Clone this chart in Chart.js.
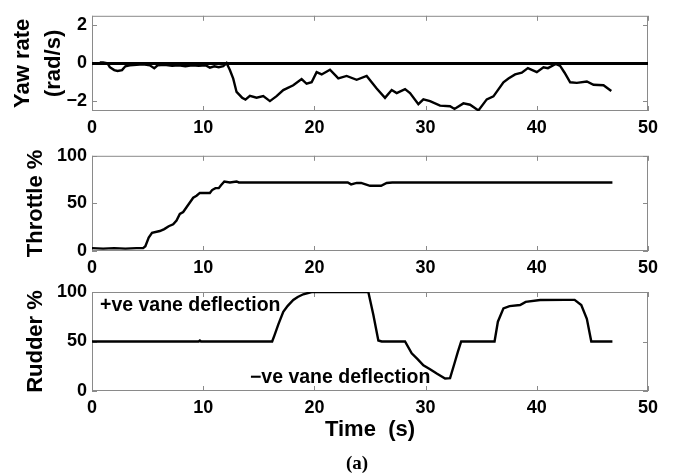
<!DOCTYPE html>
<html>
<head>
<meta charset="utf-8">
<script src="https://cdn.jsdelivr.net/npm/chart.js@4.4.1/dist/chart.umd.min.js"></script>
<style>
  body { margin: 0; background: #fff; }
  #wrap { position: relative; width: 675px; height: 476px; overflow: hidden; }
  canvas { position: absolute; left: 0; }
  #cap { position: absolute; left: 0; width: 714px; top: 452px; text-align: center;
         font: bold 19px "Liberation Serif", serif; color: #000; }
</style>
</head>
<body>
<div id="wrap">
  <canvas id="yawChart" width="675" height="140" style="top:0"></canvas>
  <canvas id="throttleChart" width="675" height="135" style="top:140px"></canvas>
  <canvas id="rudderChart" width="675" height="201" style="top:275px"></canvas>
  <div id="cap">(a)</div>
</div>
<script>
// Time axis shared by all three panels
const timeTicks = [0, 10, 20, 30, 40, 50];

// Yaw rate (rad/s)
const yawTime = [0.7, 1.0, 1.4, 1.6, 2.0, 2.3, 2.7, 3.0, 3.4, 4.0, 4.6, 5.2, 5.6, 5.9, 6.5, 7.2, 7.8,
  8.4, 9.0, 9.6, 10.2, 10.6, 11.0, 11.4, 11.8, 12.1, 12.4, 12.7, 13.0, 13.5, 13.8, 14.2, 14.8,
  15.4, 16.0, 16.6, 17.2, 18.1, 18.85, 19.3, 19.75, 20.2, 20.65, 21.4, 22.15, 22.9, 23.8, 24.7,
  25.6, 26.35, 26.95, 27.4, 28.15, 28.6, 29.35, 29.8, 30.4, 31.3, 32.2, 32.6, 33.4, 34.0, 34.75,
  35.5, 36.1, 37.0, 37.45, 38.05, 38.65, 39.2, 40.0, 40.6, 41.0, 41.7, 42.1, 42.5, 43.0, 43.6,
  44.5, 45.1, 46.0, 46.7];
const yawRate = [0.05, 0.05, 0.0, -0.2, -0.35, -0.4, -0.35, -0.15, -0.1, -0.08, -0.05, -0.1, -0.25,
  -0.1, -0.08, -0.12, -0.1, -0.15, -0.1, -0.12, -0.1, -0.22, -0.15, -0.2, -0.15, 0.02, -0.35, -0.8,
  -1.5, -1.8, -1.9, -1.7, -1.8, -1.72, -1.98, -1.72, -1.4, -1.15, -0.82, -1.07, -0.99, -0.46, -0.58,
  -0.33, -0.79, -0.66, -0.86, -0.66, -1.32, -1.81, -1.4, -1.56, -1.35, -1.56, -2.14, -1.89, -1.98,
  -2.22, -2.25, -2.39, -2.1, -2.17, -2.47, -1.89, -1.73, -0.99, -0.79, -0.58, -0.49, -0.25, -0.46,
  -0.2, -0.25, -0.03, -0.13, -0.49, -0.99, -1.02, -0.95, -1.12, -1.15, -1.45];
const yawTicks = [-2, 0, 2];

// Throttle %
const throttleTime = [0, 1, 2, 3, 4, 4.6, 4.8, 5.1, 5.4, 6.1, 6.5, 6.9, 7.3, 7.6, 7.9, 8.2, 8.5, 8.8,
  9.1, 9.4, 9.7, 10.6, 10.8, 11.1, 11.4, 11.6, 11.9, 12.4, 13.0, 13.2, 23.0, 23.3, 23.8, 24.2, 24.6,
  25.0, 26.0, 26.5, 27.0, 46.8];
const throttle = [3, 2.5, 3, 2.5, 3, 3, 5, 14, 19, 21, 23, 26, 28, 32, 39, 41, 46, 51, 56, 58, 61, 61,
  64, 66, 66, 69, 73, 72, 73, 72, 72, 70, 71.5, 71.5, 70, 68.5, 68.5, 71.5, 72, 72];

// Rudder %
const rudderTime = [0, 9.6, 9.7, 9.8, 16.2, 16.4, 16.75, 17.2, 17.6, 18.1, 18.5, 19.0, 19.75, 24.85,
  25.3, 25.75, 26.05, 28.15, 28.75, 29.3, 29.8, 30.4, 31.0, 31.75, 32.2, 32.6, 32.9, 33.2, 36.2,
  36.5, 37.0, 37.55, 38.5, 39.0, 40.3, 42.5, 43.4, 44.0, 44.5, 44.9, 46.8];
const rudder = [50, 50, 51, 50, 50, 56, 67, 80, 86, 92, 95, 97.7, 100, 100, 77, 51, 50, 50, 38, 32,
  26, 22, 17.6, 12.6, 13, 28, 39.5, 50, 50, 70, 83.5, 85.8, 86.8, 90, 91.9, 92, 92, 86.8, 73, 50, 50];
const percentTicks = [0, 50, 100];

const pts = (xs, ys) => xs.map((x, i) => ({ x: x, y: ys[i] }));
const fontTick = { family: 'Liberation Sans, Arial, sans-serif', weight: 'bold', size: 18 };
const fontTitle = { family: 'Liberation Sans, Arial, sans-serif', weight: 'bold', size: 22 };

// grey box round the plot area with inward tick marks on all four sides
const frameTicks = {
  id: 'frameTicks',
  beforeDatasetsDraw(chart) {
    const { ctx, chartArea: a, scales } = chart;
    ctx.save();
    ctx.strokeStyle = '#8a8a8a';
    ctx.lineWidth = 1;
    ctx.strokeRect(a.left + 0.5, a.top + 0.5, a.right - a.left - 1, a.bottom - a.top - 1);
    ctx.beginPath();
    scales.x.ticks.forEach(t => {
      const px = Math.round(scales.x.getPixelForValue(t.value)) + 0.5;
      ctx.moveTo(px, a.bottom); ctx.lineTo(px, a.bottom - 5);
      ctx.moveTo(px, a.top); ctx.lineTo(px, a.top + 5);
    });
    scales.y.ticks.forEach(t => {
      const py = Math.round(scales.y.getPixelForValue(t.value)) + 0.5;
      ctx.moveTo(a.left, py); ctx.lineTo(a.left + 5, py);
      ctx.moveTo(a.right, py); ctx.lineTo(a.right - 5, py);
    });
    ctx.stroke();
    ctx.restore();
  }
};

// free text placed at data coordinates
const notes = {
  id: 'notes',
  afterDatasetsDraw(chart, args, opts) {
    if (!opts.items) return;
    const { ctx, scales } = chart;
    ctx.save();
    ctx.font = 'bold 19.5px "Liberation Sans", Arial, sans-serif';
    ctx.fillStyle = '#000';
    ctx.textBaseline = 'middle';
    opts.items.forEach(n => {
      ctx.fillText(n.text, scales.x.getPixelForValue(n.x), scales.y.getPixelForValue(n.y));
    });
    ctx.restore();
  }
};

function makeChart(id, cfg) {
  return new Chart(document.getElementById(id), {
    type: 'line',
    data: { datasets: cfg.datasets },
    options: {
      responsive: false,
      animation: false,
      devicePixelRatio: 1,
      layout: { padding: { left: 0, right: 27, top: cfg.padTop, bottom: 0 } },
      plugins: { legend: { display: false }, tooltip: { enabled: false }, notes: { items: cfg.notes } },
      elements: { point: { radius: 0 }, line: { tension: 0, borderColor: '#000', borderWidth: 2.4 } },
      scales: {
        x: {
          type: 'linear', min: 0, max: 50,
          afterBuildTicks: s => { s.ticks = timeTicks.map(v => ({ value: v })); },
          afterFit: s => { s.height = cfg.xHeight; },
          grid: { display: false, drawTicks: false }, border: { display: false },
          ticks: { font: fontTick, color: '#000', padding: 6, maxRotation: 0 },
          title: cfg.xTitle ? { display: true, text: cfg.xTitle, font: fontTitle, color: '#000',
                                padding: { top: 0, bottom: cfg.xTitlePad } } : { display: false }
        },
        y: {
          type: 'linear', min: cfg.yMin, max: cfg.yMax,
          afterBuildTicks: s => { s.ticks = cfg.yTicks.map(v => ({ value: v })); },
          afterFit: s => { s.width = 92; },
          grid: { display: false, drawTicks: false }, border: { display: false },
          ticks: { font: fontTick, color: '#000', padding: 5,
                   callback: v => String(v).replace('-', '\u2212') },
          title: { display: true, text: cfg.yTitle, color: '#000',
                   font: Object.assign({}, fontTitle, { lineHeight: cfg.yLineHeight || 1.2 }),
                   padding: { top: cfg.yTitlePad, bottom: 0 } }
        }
      }
    },
    plugins: [frameTicks, notes]
  });
}

makeChart('yawChart', {
  padTop: 9, xHeight: 29, yMin: -2.5, yMax: 2.5, yTicks: yawTicks,
  yTitle: ['Yaw rate', '(rad/s)'], yLineHeight: 1.4, yTitlePad: 8,
  datasets: [
    { data: pts([0, 50], [0, 0]), borderWidth: 3 },
    { data: pts(yawTime, yawRate) }
  ]
});

makeChart('throttleChart', {
  padTop: 11, xHeight: 24, yMin: 0, yMax: 100, yTicks: percentTicks,
  yTitle: 'Throttle %', yTitlePad: 23,
  datasets: [{ data: pts(throttleTime, throttle) }]
});

makeChart('rudderChart', {
  padTop: 17, xHeight: 85, yMin: 0, yMax: 100, yTicks: percentTicks,
  yTitle: 'Rudder %', yTitlePad: 23,
  xTitle: 'Time  (s)', xTitlePad: 33,
  datasets: [{ data: pts(rudderTime, rudder) }],
  notes: [
    { text: '+ve vane deflection', x: 0.72, y: 86 },
    { text: '\u2212ve vane deflection', x: 14.2, y: 13.6 }
  ]
});
</script>
</body>
</html>
